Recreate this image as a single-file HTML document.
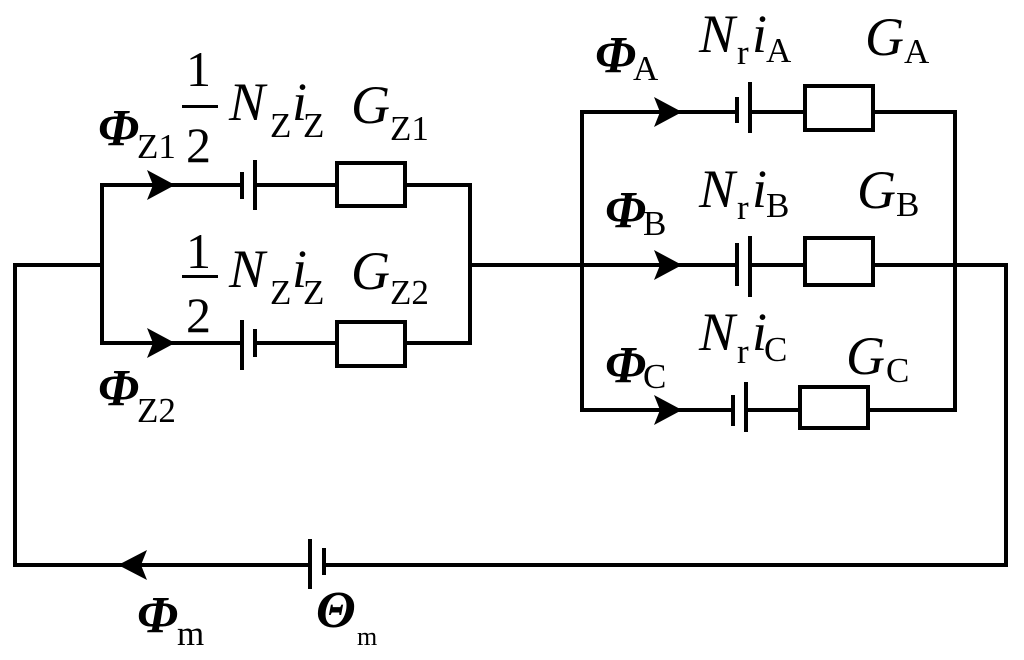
<!DOCTYPE html>
<html><head><meta charset="utf-8"><style>
html,body{margin:0;padding:0;background:#fff}
svg{display:block}
text,tspan{font-family:"Liberation Serif","Times New Roman",serif;fill:#000}
.i{font-style:italic;font-size:54px}
.b{font-style:italic;font-weight:bold;font-size:52px}
.s{font-size:35px;font-style:normal}
.n{font-size:50px}
</style></head><body>
<svg width="1024" height="660" viewBox="0 0 1024 660" xmlns="http://www.w3.org/2000/svg" font-family="Liberation Serif, Times New Roman, serif">
<g stroke="#000" stroke-width="4" fill="none" stroke-linecap="square">
<polyline points="102,265 15,265 15,565 310,565"/>
<polyline points="324,565 1006,565 1006,265 873,265"/>
<line x1="470" y1="265" x2="737" y2="265"/>
<polyline points="242,185 102,185 102,343 242,343"/>
<line x1="255" y1="185" x2="337" y2="185"/>
<line x1="255" y1="343" x2="337" y2="343"/>
<polyline points="405,185 470,185 470,343 405,343"/>
<rect x="337" y="163" width="68" height="43"/>
<rect x="337" y="322" width="68" height="44"/>
<line x1="242" y1="174" x2="242" y2="197"/>
<line x1="255" y1="162" x2="255" y2="208"/>
<line x1="242" y1="322" x2="242" y2="368"/>
<line x1="255" y1="331" x2="255" y2="355"/>
<polyline points="737,112 582,112 582,410 733,410"/>
<line x1="750" y1="112" x2="805" y2="112"/>
<line x1="750" y1="265" x2="805" y2="265"/>
<line x1="746" y1="410" x2="800" y2="410"/>
<polyline points="873,112 955,112 955,410 868,410"/>
<rect x="805" y="86" width="68" height="44"/>
<rect x="805" y="238" width="68" height="47"/>
<rect x="800" y="387" width="68" height="41"/>
<line x1="737" y1="99" x2="737" y2="121"/>
<line x1="750" y1="84" x2="750" y2="131"/>
<line x1="737" y1="245" x2="737" y2="284"/>
<line x1="750" y1="238" x2="750" y2="295"/>
<line x1="733" y1="397" x2="733" y2="424"/>
<line x1="746" y1="384" x2="746" y2="430"/>
<line x1="310" y1="541" x2="310" y2="587"/>
<line x1="324" y1="550" x2="324" y2="573"/>
</g>
<g fill="#000">
<path d="M175,185 L147,170 L153,185 L147,200 Z"/>
<path d="M175,343 L147,328 L153,343 L147,358 Z"/>
<path d="M682,112 L654,97 L660,112 L654,127 Z"/>
<path d="M682,265 L654,250 L660,265 L654,280 Z"/>
<path d="M682,410 L654,395 L660,410 L654,425 Z"/>
<path d="M118,565 L147,550 L141,565 L147,580 Z"/>
</g>
<rect x="182" y="105" width="36" height="3" fill="#000"/>
<rect x="182" y="275" width="36" height="3" fill="#000"/>
<text class="n" x="186" y="86">1</text>
<text class="n" x="186" y="162">2</text>
<text class="n" x="186" y="268">1</text>
<text class="n" x="186" y="332">2</text>
<text x="98" y="145"><tspan class="b">Φ</tspan><tspan class="s" x="137" y="158">Z1</tspan></text>
<text x="98" y="405"><tspan class="b">Φ</tspan><tspan class="s" x="137" y="422">Z2</tspan></text>
<text x="229" y="120"><tspan class="i">N</tspan><tspan class="s" x="270" y="137">Z</tspan><tspan class="i" x="292" y="120">i</tspan><tspan class="s" x="303" y="137">Z</tspan></text>
<text x="229" y="287"><tspan class="i">N</tspan><tspan class="s" x="270" y="304">Z</tspan><tspan class="i" x="292" y="287">i</tspan><tspan class="s" x="303" y="304">Z</tspan></text>
<text x="351" y="123"><tspan class="i">G</tspan><tspan class="s" x="390" y="140">Z1</tspan></text>
<text x="351" y="289"><tspan class="i">G</tspan><tspan class="s" x="390" y="304">Z2</tspan></text>
<text x="595" y="72"><tspan class="b">Φ</tspan><tspan class="s" x="633" y="80">A</tspan></text>
<text x="605" y="227"><tspan class="b">Φ</tspan><tspan class="s" x="643" y="235">B</tspan></text>
<text x="605" y="382"><tspan class="b">Φ</tspan><tspan class="s" x="643" y="388">C</tspan></text>
<text x="699" y="52"><tspan class="i">N</tspan><tspan class="s" x="737" y="64">r</tspan><tspan class="i" x="752" y="52">i</tspan><tspan class="s" x="766" y="62">A</tspan></text>
<text x="699" y="207"><tspan class="i">N</tspan><tspan class="s" x="737" y="219">r</tspan><tspan class="i" x="752" y="207">i</tspan><tspan class="s" x="766" y="217">B</tspan></text>
<text x="699" y="350"><tspan class="i">N</tspan><tspan class="s" x="737" y="363">r</tspan><tspan class="i" x="752" y="350">i</tspan><tspan class="s" x="764" y="361">C</tspan></text>
<text x="865" y="55"><tspan class="i">G</tspan><tspan class="s" x="904" y="63">A</tspan></text>
<text x="857" y="208"><tspan class="i">G</tspan><tspan class="s" x="896" y="216">B</tspan></text>
<text x="846" y="374"><tspan class="i">G</tspan><tspan class="s" x="886" y="382">C</tspan></text>
<text x="137" y="632"><tspan class="b">Φ</tspan><tspan class="s" x="177" y="645">m</tspan></text>
<text x="316" y="627"><tspan class="b">Θ</tspan><tspan style="font-size:26px" x="357" y="645">m</tspan></text>
</svg>
</body></html>
